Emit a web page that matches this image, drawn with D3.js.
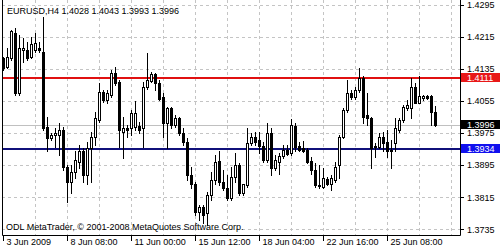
<!DOCTYPE html>
<html>
<head>
<meta charset="utf-8">
<script src="https://d3js.org/d3.v7.min.js"></script>
<style>
  * { margin: 0; padding: 0; }
  body { background: #fff; }
  svg text { font-family: "Liberation Sans", Arial, sans-serif; font-size: 9px; }
</style>
</head>
<body>
<div id="chart"></div>
<script>
// EURUSD H4 candles
const opens = [1.4161,1.4140,1.4163,1.4224,1.4074,1.4182,1.4182,1.4165,1.4182,1.4186,
  1.4178,1.3991,1.3962,1.3970,1.3970,1.3982,1.3891,1.3854,1.3879,1.3904,
  1.3929,1.3870,1.3937,1.3966,1.4007,1.4078,1.4057,1.4070,1.4124,1.4103,
  1.3978,1.3988,1.3987,1.3991,1.3992,1.3987,1.4091,1.4105,1.4121,1.4099,
  1.4066,1.3999,1.4037,1.3995,1.4013,1.3974,1.3953,1.3870,1.3849,1.3779,
  1.3791,1.3775,1.3820,1.3858,1.3905,1.3854,1.3837,1.3812,1.3866,1.3895,
  1.3825,1.3845,1.3949,1.3966,1.3958,1.3943,1.3908,1.3974,1.3887,1.3904,
  1.3918,1.3933,1.3924,1.3993,1.3943,1.3938,1.3933,1.3905,1.3883,1.3843,
  1.3841,1.3860,1.3848,1.3858,1.3895,1.3966,1.4032,1.4074,1.4066,1.4082,
  1.4111,1.4020,1.4012,1.3939,1.3939,1.3966,1.3953,1.3929,1.3949,1.3982,
  1.4007,1.4037,1.4037,1.4091,1.4051,1.4063,1.4067,1.4067,1.4028];
const highs = [1.4165,1.4186,1.4232,1.4236,1.4219,1.4211,1.4203,1.4215,1.4224,1.4203,
  1.4265,1.4016,1.3974,1.3987,1.3999,1.3991,1.3895,1.3895,1.3929,1.3945,
  1.3937,1.3953,1.3978,1.4028,1.4099,1.4082,1.4082,1.4132,1.4140,1.4107,
  1.4016,1.3995,1.4032,1.4055,1.4003,1.4103,1.4174,1.4128,1.4124,1.4107,
  1.4074,1.4041,1.4041,1.4020,1.4016,1.3987,1.3962,1.3891,1.3854,1.3795,
  1.3795,1.3829,1.3879,1.3920,1.3930,1.3883,1.3870,1.3891,1.3924,1.3900,
  1.3849,1.3987,1.3974,1.3978,1.3978,1.3953,1.3999,1.3987,1.3920,1.3924,
  1.3945,1.3945,1.4009,1.3999,1.3953,1.3955,1.3937,1.3916,1.3900,1.3895,
  1.3887,1.3866,1.3870,1.3904,1.3970,1.4037,1.4107,1.4082,1.4091,1.4136,
  1.4116,1.4076,1.4016,1.3949,1.3974,1.3978,1.3982,1.3958,1.4012,1.4012,
  1.4045,1.4057,1.4111,1.4099,1.4116,1.4071,1.4071,1.4070,1.4043];
const lows = [1.4132,1.4136,1.4157,1.4070,1.4070,1.4153,1.4157,1.4161,1.4178,1.4178,
  1.3982,1.3929,1.3958,1.3941,1.3920,1.3883,1.3804,1.3825,1.3862,1.3887,
  1.3854,1.3849,1.3854,1.3945,1.4003,1.4053,1.4049,1.4066,1.4095,1.3941,
  1.3912,1.3966,1.3970,1.3982,1.3974,1.3941,1.4086,1.4103,1.4082,1.4057,
  1.3966,1.3937,1.3987,1.3991,1.3970,1.3945,1.3858,1.3837,1.3771,1.3758,
  1.3750,1.3746,1.3808,1.3849,1.3845,1.3833,1.3808,1.3808,1.3854,1.3820,
  1.3820,1.3841,1.3945,1.3945,1.3924,1.3904,1.3904,1.3870,1.3883,1.3874,
  1.3912,1.3920,1.3920,1.3929,1.3929,1.3927,1.3900,1.3874,1.3841,1.3837,
  1.3837,1.3845,1.3833,1.3854,1.3862,1.3962,1.4028,1.4061,1.4061,1.4078,
  1.3999,1.3995,1.3887,1.3916,1.3937,1.3929,1.3916,1.3887,1.3929,1.3978,
  1.4003,1.4032,1.4012,1.4049,1.4049,1.4057,1.4061,1.3995,1.3993];
const closes = [1.4136,1.4165,1.4229,1.4074,1.4186,1.4186,1.4161,1.4196,1.4199,1.4182,
  1.3987,1.3962,1.3970,1.3974,1.3982,1.3891,1.3854,1.3879,1.3908,1.3929,
  1.3870,1.3937,1.3966,1.4012,1.4078,1.4057,1.4074,1.4124,1.4099,1.3982,
  1.3988,1.3982,1.4026,1.4024,1.3982,1.4091,1.4107,1.4121,1.4099,1.4061,
  1.3999,1.4037,1.3995,1.4013,1.3974,1.3953,1.3870,1.3849,1.3779,1.3791,
  1.3771,1.3820,1.3858,1.3904,1.3854,1.3837,1.3812,1.3866,1.3895,1.3825,
  1.3847,1.3949,1.3966,1.3953,1.3943,1.3908,1.3974,1.3887,1.3908,1.3918,
  1.3933,1.3922,1.3995,1.3941,1.3933,1.3930,1.3904,1.3883,1.3845,1.3845,
  1.3862,1.3849,1.3862,1.3891,1.3966,1.4032,1.4074,1.4066,1.4082,1.4111,
  1.4016,1.4012,1.3937,1.3943,1.3964,1.3949,1.3929,1.3933,1.3987,1.4007,
  1.4041,1.4045,1.4091,1.4051,1.4067,1.4067,1.4063,1.4028,1.3996];

const priceTicks = [1.4295, 1.4215, 1.4135, 1.4055, 1.3975, 1.3895, 1.3815, 1.3735];
const timeLabels = ["3 Jun 2009", "8 Jun 08:00", "11 Jun 00:00", "15 Jun 12:00",
  "18 Jun 04:00", "22 Jun 16:00", "25 Jun 08:00"];
const timeLabelBars = [0, 16, 32, 48, 64, 80, 96];
const levelLines = [1.4111, 1.3934];
const levelColors = ["#e01010", "#10107a"];
const levelBoxColors = ["#e81818", "#1010ee"];
const bid = 1.3996;
const title = "EURUSD,H4  1.4028 1.4043 1.3993 1.3996";
const footer = "ODL MetaTrader, \u00a9 2001-2008 MetaQuotes Software Corp.";

const W = 500, H = 250;
const left = 2, right = 460, bottom = 235;

const x = d3.scaleLinear().domain([0, 112]).range([3.3, 451.3]);
const y = d3.scaleLinear().domain([1.3735, 1.4295]).range([229.3, 4.7]);
const px = v => Math.round(x(v)) + 0.5;

const svg = d3.select("#chart").append("svg")
  .attr("width", W).attr("height", H)
  .style("display", "block");

svg.append("rect").attr("width", W).attr("height", H).attr("fill", "#fff");

// dashed grid
svg.append("g").selectAll("line")
  .data(priceTicks)
  .join("line")
  .attr("x1", left).attr("x2", right)
  .attr("y1", d => Math.round(y(d)) + 0.5).attr("y2", d => Math.round(y(d)) + 0.5)
  .attr("stroke", "#c4c4c4").attr("stroke-dasharray", "3,3");

svg.append("g").selectAll("line")
  .data(d3.range(8, 113, 8))
  .join("line")
  .attr("x1", px).attr("x2", px)
  .attr("y1", 0).attr("y2", bottom)
  .attr("stroke", "#c4c4c4").attr("stroke-dasharray", "3,3");

// bid line
svg.append("line")
  .attr("x1", left).attr("x2", right)
  .attr("y1", Math.round(y(bid)) + 0.5).attr("y2", Math.round(y(bid)) + 0.5)
  .attr("stroke", "#c0c0c0");

// horizontal levels
svg.append("g").selectAll("line")
  .data(levelLines)
  .join("line")
  .attr("x1", left).attr("x2", right)
  .attr("y1", d => Math.round(y(d))).attr("y2", d => Math.round(y(d)))
  .attr("stroke", (d, i) => levelColors[i]).attr("stroke-width", 2);

// candles
const bars = d3.range(closes.length);
const candle = svg.append("g").selectAll("g")
  .data(bars)
  .join("g");

candle.append("line")
  .attr("x1", px).attr("x2", px)
  .attr("y1", i => Math.round(y(highs[i])))
  .attr("y2", i => Math.round(y(lows[i])) + 1)
  .attr("stroke", "#000");

candle.append("rect")
  .attr("x", i => px(i) - 1)
  .attr("width", 2)
  .attr("y", i => Math.round(y(Math.max(opens[i], closes[i]))) + 0.5)
  .attr("height", i => Math.max(0.01, Math.round(y(Math.min(opens[i], closes[i]))) - Math.round(y(Math.max(opens[i], closes[i])))))
  .attr("fill", i => closes[i] < opens[i] ? "#000" : "#fff")
  .attr("stroke", "#000");

// frame
svg.append("path")
  .attr("d", `M${left + 0.5},0V${bottom + 0.5}H${right + 0.5}V0`)
  .attr("fill", "none").attr("stroke", "#000");

// price axis
const pa = svg.append("g");
pa.selectAll("line")
  .data(priceTicks)
  .join("line")
  .attr("x1", right).attr("x2", right + 4)
  .attr("y1", d => Math.round(y(d)) + 0.5).attr("y2", d => Math.round(y(d)) + 0.5)
  .attr("stroke", "#000");
pa.selectAll("text")
  .data(priceTicks)
  .join("text")
  .attr("x", 467).attr("y", d => y(d) + 3.3)
  .text(d => d.toFixed(4));

// price boxes
const boxes = levelLines.map((v, i) => ({ v, c: levelBoxColors[i] }))
  .concat([{ v: bid, c: "#000" }]);
const bx = svg.append("g").selectAll("g").data(boxes).join("g");
bx.append("rect")
  .attr("x", right + 1).attr("width", W - right - 1)
  .attr("y", d => Math.round(y(d.v)) - 5).attr("height", 9)
  .attr("fill", d => d.c);
bx.append("text")
  .attr("x", 467).attr("y", d => Math.round(y(d.v)) + 2.8)
  .attr("fill", "#fff")
  .text(d => d.v.toFixed(4));

// time axis
const ta = svg.append("g");
ta.selectAll("line")
  .data(timeLabelBars)
  .join("line")
  .attr("x1", px).attr("x2", px)
  .attr("y1", bottom).attr("y2", bottom + 6)
  .attr("stroke", "#000");
ta.selectAll("text")
  .data(timeLabels)
  .join("text")
  .attr("x", (d, i) => px(timeLabelBars[i]) + 3)
  .attr("y", 244.5)
  .text(d => d);

svg.append("text").attr("x", 7).attr("y", 14).text(title);
svg.append("text").attr("x", 6).attr("y", 229.5).text(footer);
</script>
</body>
</html>
